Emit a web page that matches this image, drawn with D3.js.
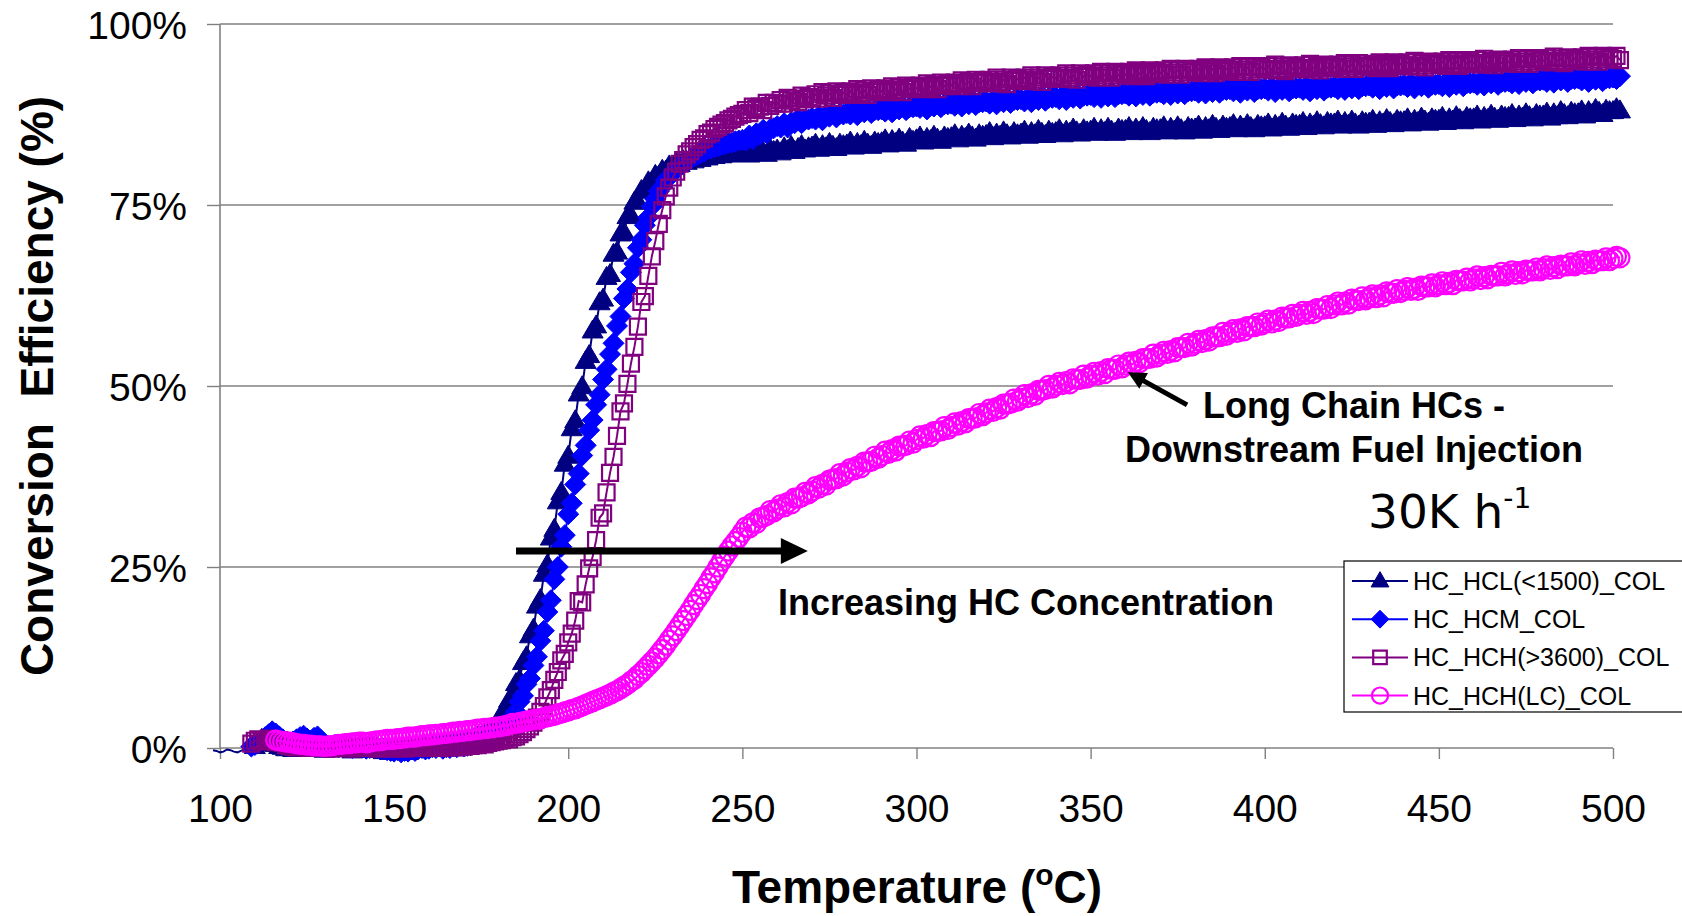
<!DOCTYPE html>
<html>
<head>
<meta charset="utf-8">
<script src="https://cdn.jsdelivr.net/npm/d3@7"></script>
<style>
  html, body { margin: 0; padding: 0; background: #fff; }
  svg { display: block; }
  text { font-family: "Liberation Sans", Arial, Helvetica, sans-serif; }
</style>
</head>
<body>
<svg id="chart" width="1682" height="916"></svg>
<script>
// ---------------- DATA ----------------
// temperature samples, 1 degC apart, 98 .. 502 degC
const tempStart = 98;
const tempEnd = 502;

// HC_HCL(<1500)_COL  (one value per degC from 98 degC)
const hclEff = [
  -0.3,-0.4,-0.6,-0.5,-0.2,-0.3,-0.5,-0.6,-0.4,-0.2,
  0.0,0.3,0.2,0.8,1.2,1.0,0.6,0.9,0.5,0.2,
  0.1,-0.1,0.0,-0.2,0.2,0.3,0.1,-0.1,0.2,0.0,
  0.1,-0.2,-0.3,0.0,0.2,0.1,-0.1,0.0,0.1,-0.2,
  -0.4,-0.2,0.0,0.1,-0.1,-0.3,-0.2,0.0,-0.3,-0.5,
  -0.4,-0.6,-0.3,-0.5,-0.2,-0.4,-0.6,-0.3,-0.1,-0.2,
  0.0,0.1,-0.1,0.2,0.3,0.4,0.3,0.5,0.6,0.5,
  0.7,0.8,0.9,1.0,1.1,1.3,1.5,1.6,1.8,2.1,
  2.5,3.0,
  3.5,4.8,5.0,6.6,7.1,8.9,9.4,11.8,12.6,15.5,16.4,19.6,20.5,24.0,25.3,29.0,30.2,34.0,35.3,39.2,
  40.3,44.1,45.2,48.9,49.9,53.4,54.2,57.6,58.3,61.5,62.0,65.0,65.4,68.2,68.5,71.0,71.2,73.4,73.5,75.4,
  75.4,77.0,76.9,78.2,78.1,79.1,79.0,79.8,79.7,80.4,80.2,80.8,80.6,81.1,80.9,81.4,81.1,81.6,81.3,81.8,
  81.5,82.0,81.7,82.1,81.8,82.2,81.9,82.3,82.0,82.4,
  82.2,82.6,81.9,82.5,82.1,82.8,82.3,82.0,82.7,82.4,
  82.6,82.2,82.9,82.5,83.1,82.4,82.8,83.2,82.6,82.9,
  83.0,83.4,82.7,83.2,82.9,83.5,83.1,82.8,83.4,83.2,
  83.3,83.7,83.0,83.5,83.2,83.8,83.4,83.1,83.7,83.5,
  83.6,84.0,83.3,83.9,83.5,84.1,83.7,83.4,84.2,83.8,
  84.0,84.4,83.7,84.2,83.9,84.5,84.1,83.8,84.4,84.2,
  84.3,84.7,84.0,84.5,84.2,84.8,84.4,84.1,84.7,84.5,
  84.6,85.0,84.3,84.8,84.5,85.1,84.7,84.4,85.0,84.7,
  84.8,85.2,84.5,85.0,84.7,85.3,84.9,84.6,85.2,84.9,
  85.0,85.4,84.7,85.2,84.9,85.5,85.1,84.8,85.4,85.1,
  85.2,85.6,84.9,85.4,85.0,85.6,85.2,84.9,85.5,85.3,
  85.3,85.7,85.0,85.5,85.1,85.7,85.3,85.0,85.6,85.4,
  85.4,85.8,85.1,85.6,85.2,85.8,85.4,85.1,85.7,85.5,
  85.5,85.9,85.2,85.7,85.4,86.0,85.6,85.3,85.9,85.6,
  85.7,86.1,85.4,85.9,85.5,86.1,85.7,85.4,86.0,85.8,
  85.8,86.2,85.5,86.0,85.7,86.3,85.9,85.6,86.2,86.0,
  86.0,86.4,85.7,86.2,85.9,86.5,86.1,85.8,86.4,86.2,
  86.2,86.6,85.9,86.4,86.0,86.6,86.2,85.9,86.5,86.3,
  86.3,86.7,86.0,86.5,86.2,86.8,86.4,86.1,86.7,86.5,
  86.5,86.9,86.2,86.7,86.4,87.0,86.6,86.3,86.9,86.7,
  86.7,87.1,86.4,86.9,86.6,87.2,86.8,86.5,87.1,86.9,
  86.9,87.3,86.6,87.1,86.8,87.4,87.0,86.7,87.3,87.1,
  87.1,87.5,86.8,87.3,87.0,87.6,87.2,86.9,87.5,87.3,
  87.3,87.7,87.0,87.6,87.2,87.9,87.5,87.2,87.8,87.6,
  87.6,88.0,87.3,87.9,87.5,88.2,87.8,87.5,88.1,87.9,
  87.9,88.3,88.0
];

// HC_HCM_COL
const hcmEff = [
  null,null,null,null,null,null,null,null,null,null,
  null,0.2,
  0.4,0.7,1.1,1.5,1.9,2.3,2.0,1.6,1.2,0.9,
  0.7,0.9,1.2,1.5,1.7,1.3,1.0,1.4,1.6,1.1,
  0.6,0.3,0.2,0.4,0.1,0.3,0.5,0.2,0.0,0.1,
  0.3,0.1,-0.1,0.0,0.2,0.0,-0.2,-0.1,-0.3,-0.4,
  -0.5,-0.3,-0.6,-0.4,-0.5,-0.2,-0.4,-0.1,0.0,-0.2,
  -0.1,0.1,0.0,0.2,-0.1,0.1,0.0,0.2,0.1,0.3,
  0.2,0.3,0.4,0.5,0.6,0.6,0.8,0.9,1.1,1.2,
  1.5,2.0,2.6,3.2,4.3,5.0,6.4,7.2,8.8,9.6,11.4,12.6,14.8,16.2,18.8,20.4,23.3,25.0,27.8,29.4,
  32.3,33.8,36.4,37.9,40.4,41.8,43.9,45.3,47.4,48.8,50.9,52.3,54.4,55.9,58.3,59.6,62.1,63.4,65.7,66.9,
  69.1,70.2,72.2,73.3,74.8,75.8,76.9,77.5,78.4,78.9,79.5,79.9,80.4,80.7,81.1,81.3,81.7,81.9,82.2,82.4,
  82.7,82.8,83.0,83.1,83.3,83.4,83.6,83.6,83.8,83.9,
  84.0,83.9,84.6,84.1,84.9,84.7,85.4,84.9,85.5,85.6,
  85.9,85.7,86.3,85.7,86.4,86.3,86.9,86.3,86.8,86.8,
  87.0,86.8,87.3,86.7,87.4,87.2,87.7,87.1,87.6,87.5,
  87.7,87.5,88.0,87.4,88.0,87.8,88.3,87.7,88.1,88.1,
  88.2,87.9,88.5,87.8,88.5,88.2,88.7,88.1,88.5,88.5,
  88.6,88.4,88.9,88.2,88.9,88.6,89.1,88.5,88.9,88.9,
  89.0,88.7,89.3,88.6,89.2,88.9,89.5,88.8,89.2,89.2,
  89.3,89.0,89.5,88.9,89.5,89.2,89.8,89.1,89.5,89.5,
  89.6,89.3,89.8,89.2,89.8,89.5,90.1,89.4,89.8,89.8,
  89.9,89.6,90.1,89.5,90.1,89.8,90.4,89.7,90.1,90.1,
  90.2,89.9,90.4,89.8,90.4,90.0,90.6,89.9,90.3,90.3,
  90.4,90.1,90.6,90.0,90.6,90.2,90.8,90.1,90.5,90.5,
  90.6,90.3,90.8,90.2,90.8,90.4,91.0,90.3,90.7,90.7,
  90.8,90.5,91.0,90.4,91.0,90.6,91.2,90.5,90.9,90.9,
  91.0,90.7,91.2,90.5,91.1,90.8,91.3,90.6,91.0,91.0,
  91.1,90.8,91.3,90.6,91.2,90.9,91.4,90.7,91.1,91.1,
  91.2,90.9,91.4,90.7,91.3,91.0,91.5,90.8,91.2,91.2,
  91.3,91.0,91.5,90.9,91.5,91.1,91.7,91.0,91.4,91.4,
  91.5,91.2,91.7,91.0,91.6,91.3,91.8,91.1,91.5,91.5,
  91.6,91.3,91.8,91.1,91.7,91.4,91.9,91.2,91.6,91.6,
  91.7,91.4,91.9,91.3,91.9,91.6,92.1,91.4,91.8,91.8,
  91.9,91.6,92.1,91.5,92.1,91.8,92.3,91.6,92.0,92.0,
  92.1,91.8,92.3,91.7,92.3,92.0,92.5,91.8,92.2,92.2,
  92.3,92.0,92.5,91.9,92.5,92.2,92.7,92.0,92.4,92.4,
  92.5,92.2,92.7,92.0,92.6,92.3,92.8,92.1,92.5,92.5,
  92.6,92.4,92.8
];

// HC_HCH(>3600)_COL
const hchEff = [
  null,null,null,null,null,null,null,null,null,null,
  null,0.6,
  1.0,1.2,0.9,1.1,1.3,1.0,0.8,1.1,0.7,0.4,
  0.3,0.2,0.1,0.2,0.3,0.1,0.0,0.1,0.2,0.0,
  0.1,0.0,-0.1,0.0,0.1,0.2,0.0,0.1,-0.1,0.0,
  0.1,0.0,0.2,0.1,0.0,-0.1,0.0,0.1,0.0,-0.1,
  0.0,0.1,0.0,-0.1,0.0,0.1,0.2,0.0,0.1,0.0,
  0.1,0.2,0.1,0.0,0.2,0.1,0.3,0.2,0.1,0.3,
  0.2,0.4,0.3,0.5,0.4,0.6,0.5,0.7,0.8,0.9,
  1.0,1.1,1.3,1.2,1.5,1.6,1.9,2.2,2.6,3.0,3.5,4.2,5.0,5.8,7.0,8.0,9.4,10.5,12.1,13.0,
  14.6,15.8,17.6,20.3,20.1,22.6,24.8,26.4,28.7,31.8,32.4,35.3,38.0,40.2,43.1,46.5,47.6,50.3,53.1,55.4,
  58.2,61.6,62.4,65.2,67.9,70.0,72.4,74.3,76.2,77.4,78.8,79.6,80.7,81.2,82.0,82.4,83.0,83.4,84.0,84.2,
  84.8,85.0,85.5,85.8,86.1,86.3,86.7,86.9,87.2,87.4,
  87.6,88.1,87.7,88.6,88.3,88.6,88.1,89.1,88.7,89.1,
  89.0,89.5,89.0,89.8,89.4,89.7,89.2,90.1,89.6,89.9,
  89.8,90.3,89.7,90.6,90.1,90.4,89.8,90.7,90.2,90.5,
  90.3,90.7,90.2,91.0,90.5,90.8,90.2,91.1,90.6,90.9,
  90.7,91.1,90.6,91.4,90.9,91.2,90.6,91.5,91.0,91.3,
  91.1,91.5,91.0,91.8,91.3,91.6,91.0,91.9,91.4,91.7,
  91.5,91.9,91.4,92.2,91.7,92.0,91.4,92.3,91.8,92.1,
  91.9,92.3,91.8,92.6,92.0,92.3,91.7,92.6,92.1,92.4,
  92.2,92.6,92.1,92.9,92.3,92.6,92.0,92.9,92.4,92.7,
  92.5,92.9,92.4,93.2,92.6,92.9,92.3,93.2,92.7,93.0,
  92.8,93.2,92.6,93.4,92.9,93.2,92.6,93.4,92.9,93.2,
  93.0,93.4,92.8,93.6,93.1,93.4,92.8,93.6,93.1,93.4,
  93.2,93.6,93.0,93.8,93.3,93.6,93.0,93.8,93.3,93.6,
  93.4,93.8,93.2,94.0,93.5,93.8,93.2,94.0,93.5,93.8,
  93.6,94.0,93.4,94.2,93.7,94.0,93.4,94.2,93.7,94.0,
  93.8,94.2,93.6,94.4,93.8,94.1,93.5,94.3,93.8,94.1,
  93.9,94.3,93.7,94.5,93.9,94.2,93.6,94.4,93.9,94.2,
  94.0,94.4,93.8,94.6,94.1,94.4,93.8,94.6,94.1,94.3,
  94.1,94.5,93.9,94.7,94.2,94.5,93.9,94.7,94.2,94.5,
  94.3,94.7,94.1,94.9,94.3,94.6,94.0,94.8,94.3,94.6,
  94.4,94.8,94.2,95.0,94.5,94.8,94.2,95.0,94.5,94.8,
  94.6,95.0,94.4,95.2,94.6,94.9,94.3,95.1,94.6,94.9,
  94.7,95.1,94.5,95.3,94.8,95.1,94.5,95.3,94.8,95.1,
  94.9,95.3,94.7,95.5,94.9,95.2,94.6,95.4,94.9,95.2,
  95.0,95.4,94.8,95.6,95.1,95.4,94.8,95.6,95.1,95.4,
  95.2,95.6,95.0
];

// HC_HCH(LC)_COL
const lcEff = [
  null,null,null,null,null,null,null,null,null,null,
  null,null,null,null,null,null,null,null,
  1.1,1.0,0.9,0.8,
  0.8,0.7,0.6,0.5,0.5,0.4,0.4,0.3,0.3,0.3,
  0.2,0.3,0.3,0.4,0.5,0.5,0.6,0.6,0.7,0.7,
  0.8,0.8,0.7,0.8,0.9,1.0,1.0,1.1,1.2,1.2,
  1.2,1.3,1.3,1.4,1.5,1.5,1.5,1.6,1.7,1.7,
  1.8,1.8,1.9,1.9,2.0,2.0,2.1,2.2,2.2,2.3,
  2.3,2.4,2.4,2.5,2.6,2.6,2.7,2.7,2.8,2.9,
  2.9,3.0,3.1,3.2,3.4,3.4,3.5,3.6,3.7,3.8,3.9,4.0,4.0,4.2,4.3,4.4,4.5,4.7,4.8,5.0,
  5.1,5.3,5.4,5.6,5.8,6.0,6.2,6.4,6.6,6.8,7.0,7.2,7.4,7.7,7.9,8.2,8.5,8.8,9.2,9.5,
  10.0,10.4,10.9,11.4,11.9,12.4,13.0,13.6,14.2,14.9,15.5,16.2,16.9,17.6,18.3,19.0,19.8,20.5,21.2,22.0,
  22.7,23.5,24.2,25.0,25.8,26.5,27.2,27.9,28.5,29.1,
  29.8,30.5,30.4,31.1,31.0,31.8,31.9,32.1,32.8,32.6,
  33.0,33.6,33.3,33.9,33.7,34.5,34.5,34.7,35.3,35.1,
  35.5,36.1,35.9,36.4,36.3,37.0,37.1,37.2,37.9,37.6,
  38.1,38.6,38.4,38.9,38.7,39.5,39.5,39.6,40.3,40.0,
  40.4,41.0,40.7,41.2,41.0,41.7,41.7,41.8,42.4,42.1,
  42.6,43.1,42.8,43.3,43.0,43.7,43.7,43.8,44.4,44.0,
  44.4,44.9,44.6,45.1,44.9,45.5,45.5,45.6,46.2,45.9,
  46.3,46.8,46.5,47.0,46.8,47.5,47.5,47.6,48.2,47.9,
  48.3,48.8,48.4,48.9,48.7,49.4,49.4,49.5,50.1,49.7,
  50.1,50.5,50.2,50.6,50.3,51.0,50.9,50.9,51.5,51.1,
  51.5,51.9,51.5,52.0,51.7,52.4,52.3,52.3,52.9,52.5,
  52.9,53.3,53.0,53.4,53.2,53.8,53.8,53.8,54.4,54.0,
  54.4,54.8,54.5,54.9,54.7,55.3,55.3,55.3,55.9,55.5,
  55.9,56.3,56.0,56.4,56.2,56.8,56.8,56.8,57.4,57.0,
  57.4,57.8,57.4,57.9,57.6,58.2,58.2,58.2,58.7,58.4,
  58.7,59.1,58.7,59.1,58.9,59.5,59.4,59.4,59.9,59.6,
  59.9,60.3,59.9,60.3,60.0,60.7,60.6,60.6,61.1,60.7,
  61.2,61.6,61.2,61.6,61.3,62.0,61.8,61.8,62.3,61.9,
  62.2,62.6,62.2,62.6,62.3,63.0,62.8,62.8,63.3,62.9,
  63.2,63.6,63.2,63.5,63.2,63.8,63.7,63.7,64.1,63.7,
  64.0,64.4,64.0,64.3,64.0,64.6,64.5,64.5,64.9,64.5,
  64.8,65.2,64.7,65.1,64.8,65.3,65.2,65.2,65.7,65.2,
  65.5,65.9,65.4,65.8,65.5,66.0,65.9,65.9,66.3,65.9,
  66.2,66.6,66.1,66.5,66.2,66.7,66.6,66.6,67.0,66.6,
  66.9,67.3,66.8,67.2,66.9,67.4,67.3,67.3,67.7,67.3,
  67.6,67.9,67.7
];

const seriesNames = ["HC_HCL(<1500)_COL", "HC_HCM_COL", "HC_HCH(>3600)_COL", "HC_HCH(LC)_COL"];
const xTicks = [100, 150, 200, 250, 300, 350, 400, 450, 500];
const yTicks = [0, 25, 50, 75, 100];

// ---------------- LAYOUT / STYLE ----------------
const W = 1682, H = 916;
const plot = { left: 220, right: 1613, top: 24, bottom: 748 };
const axisColor = "#808080";

const styles = [
  { color: "#000080", shape: "triangle", markerFrom: 110 },
  { color: "#0000FF", shape: "diamond",  markerFrom: 0 },
  { color: "#800080", shape: "square",   markerFrom: 0 },
  { color: "#FF00FF", shape: "circle",   markerFrom: 0 }
];
const allValues = [hclEff, hcmEff, hchEff, lcEff];
const temps = d3.range(tempStart, tempEnd + 1);

const svg = d3.select("#chart");
svg.append("rect").attr("width", W).attr("height", H).attr("fill", "#fff");

const x = d3.scaleLinear().domain([100, 500]).range([plot.left, plot.right]);
const y = d3.scaleLinear().domain([0, 100]).range([plot.bottom, plot.top]);

// gridlines
svg.append("g").selectAll("line").data(yTicks.filter(d => d > 0)).join("line")
  .attr("x1", plot.left).attr("x2", plot.right)
  .attr("y1", d => y(d)).attr("y2", d => y(d))
  .attr("stroke", axisColor).attr("stroke-width", 1.3);

// axes
const xAxis = svg.append("g").attr("transform", `translate(0,${plot.bottom})`)
  .call(d3.axisBottom(x).tickValues(xTicks).tickSize(11).tickFormat(d3.format("d")));
const yAxis = svg.append("g").attr("transform", `translate(${plot.left},0)`)
  .call(d3.axisLeft(y).tickValues(yTicks).tickSize(13).tickFormat(d => d + "%"));

[xAxis, yAxis].forEach(g => {
  g.select(".domain").attr("stroke", axisColor).attr("stroke-width", 1.6);
  g.selectAll(".tick line").attr("stroke", axisColor).attr("stroke-width", 1.4);
  g.selectAll(".tick text").attr("fill", "#000")
    .style("font-family", '"Liberation Sans", Arial, sans-serif')
    .style("font-size", "39px");
});
xAxis.select(".domain").attr("d", `M${plot.left},0H${plot.right}`);
yAxis.select(".domain").attr("d", `M0,${plot.top}V${plot.bottom}`);
xAxis.selectAll(".tick text").attr("dy", null).attr("y", 74);
yAxis.selectAll(".tick text").attr("dy", null).attr("x", -33).attr("y", 14);

// marker shapes
function markerPath(shape, k) {
  k = k || 1;
  switch (shape) {
    case "triangle": return `M0,${-11*k} L${10.5*k},${7*k} L${-10.5*k},${7*k} Z`;
    case "diamond":  return `M0,${-10.5*k} L${10.5*k},0 L0,${10.5*k} L${-10.5*k},0 Z`;
    case "square":   return `M${-8*k},${-8*k} H${8*k} V${8*k} H${-8*k} Z`;
    case "circle":   { const r = 9.5*k; return `M${r},0 A${r},${r} 0 1,1 ${-r},0 A${r},${r} 0 1,1 ${r},0 Z`; }
  }
}
function drawMarker(sel, st, k) {
  const filled = st.shape === "triangle" || st.shape === "diamond";
  sel.attr("d", markerPath(st.shape, k))
    .attr("fill", filled ? st.color : "none")
    .attr("stroke", st.color)
    .attr("stroke-width", filled ? 1 : 2.2);
}

// series
const line = d3.line().defined(d => d.v !== null).x(d => x(d.t)).y(d => y(d.v));
allValues.forEach((vals, i) => {
  const st = styles[i];
  const pts = temps.map((t, k) => ({ t, v: (vals[k] === undefined) ? null : vals[k] }));
  const g = svg.append("g");
  g.append("path").datum(pts).attr("d", line)
    .attr("fill", "none").attr("stroke", st.color).attr("stroke-width", 2);
  g.selectAll("path.m").data(pts.filter(d => d.v !== null && d.t >= st.markerFrom)).join("path")
    .attr("class", "m")
    .attr("transform", d => `translate(${x(d.t)},${y(d.v)})`)
    .call(drawMarker, st, 1);
});

// arrows (annotation, placed in data units)
function arrow(t1, v1, t2, v2, w, L, Hh) {
  const x1 = x(t1), y1 = y(v1), x2 = x(t2), y2 = y(v2);
  const dx = x2 - x1, dy = y2 - y1, len = Math.hypot(dx, dy);
  const ux = dx / len, uy = dy / len, nx = -uy, ny = ux;
  const bx = x2 - ux * L, by = y2 - uy * L;
  const p = [
    [x1 + nx * w / 2, y1 + ny * w / 2],
    [bx + nx * w / 2, by + ny * w / 2],
    [bx + nx * Hh, by + ny * Hh],
    [x2, y2],
    [bx - nx * Hh, by - ny * Hh],
    [bx - nx * w / 2, by - ny * w / 2],
    [x1 - nx * w / 2, y1 - ny * w / 2]
  ];
  svg.append("path").attr("d", "M" + p.map(q => q.join(",")).join("L") + "Z").attr("fill", "#000");
}
arrow(185, 27.2, 268.8, 27.2, 7, 27, 13);
arrow(377.7, 47.4, 360.7, 51.9, 5, 18, 9);

// annotation texts
svg.append("text").attr("x", 1026).attr("y", 615).attr("text-anchor", "middle")
  .style("font-size", "36px").style("font-weight", "bold").text("Increasing HC Concentration");
svg.append("text").attr("x", 1354).attr("y", 418).attr("text-anchor", "middle")
  .style("font-size", "36px").style("font-weight", "bold").text("Long Chain HCs -");
svg.append("text").attr("x", 1354).attr("y", 462).attr("text-anchor", "middle")
  .style("font-size", "36px").style("font-weight", "bold").text("Downstream Fuel Injection");
const sv = svg.append("text").attr("x", 1368).attr("y", 528)
  .style("font-family", '"DejaVu Sans", Verdana, sans-serif').style("font-size", "47px");
sv.append("tspan").text("30K h");
sv.append("tspan").attr("dy", -20).style("font-size", "28px").text("-1");

// axis titles
const xt = svg.append("text").attr("x", 917).attr("y", 903).attr("text-anchor", "middle")
  .style("font-size", "46px").style("font-weight", "bold");
xt.append("tspan").text("Temperature (");
xt.append("tspan").attr("dy", -18).style("font-size", "30px").text("o");
xt.append("tspan").attr("dy", 18).text("C)");

svg.append("text").attr("transform", "translate(53,386) rotate(-90)").attr("text-anchor", "middle")
  .style("font-size", "46px").style("font-weight", "bold").style("white-space", "pre")
  .attr("xml:space", "preserve").text("Conversion  Efficiency (%)");

// legend
const lg = svg.append("g");
lg.append("rect").attr("x", 1344).attr("y", 561).attr("width", 360).attr("height", 151)
  .attr("fill", "#fff").attr("stroke", "#000").attr("stroke-width", 1.2);
seriesNames.forEach((name, i) => {
  const st = styles[i];
  const cy = 581 + i * 38.2;
  lg.append("line").attr("x1", 1352).attr("x2", 1408).attr("y1", cy).attr("y2", cy)
    .attr("stroke", st.color).attr("stroke-width", 2);
  lg.append("path").attr("transform", `translate(1380,${cy})`).call(drawMarker, st, 0.85);
  lg.append("text").attr("x", 1413).attr("y", cy + 9).style("font-size", "25px").text(name);
});
</script>
</body>
</html>
